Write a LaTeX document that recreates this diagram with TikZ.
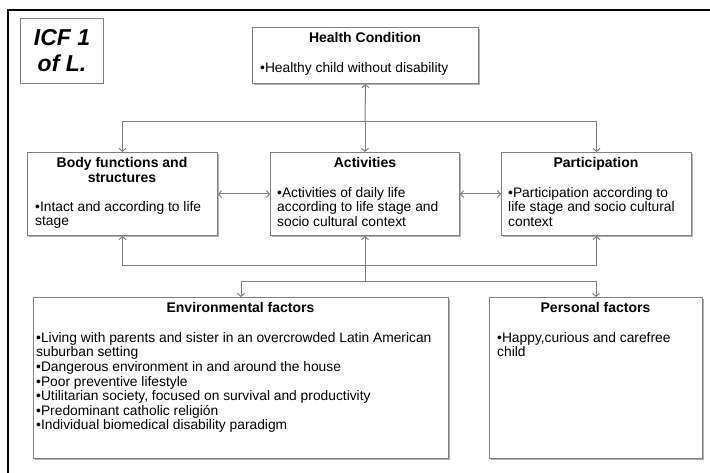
\documentclass[tikz,border=0pt]{standalone}
\usepackage{fontspec}
\setmainfont{Liberation Sans}
\usetikzlibrary{arrows.meta,shadows}
\begin{document}
\begin{tikzpicture}[x=1pt,y=-1pt,
  box/.style={draw=black!50, line width=1pt, fill=white, anchor=north west, inner sep=0pt,
    drop shadow={shadow xshift=1.2pt, shadow yshift=-1.2pt, fill=black!30, opacity=1}},
  ttl/.style={font=\fontsize{14}{15}\selectfont\bfseries, align=center, inner sep=0pt, anchor=north},
  txt/.style={font=\fontsize{13.8}{14.8}\selectfont, align=left, inner sep=0pt, anchor=north west},
  conn/.style={draw=black!50, line width=1pt},
  arr/.style={conn, -{Straight Barb[length=3pt,width=7pt]}},
  arrb/.style={conn, {Straight Barb[length=3pt,width=7pt]}-{Straight Barb[length=3pt,width=7pt]}}]
\useasboundingbox (0,0) rectangle (710,473);
\fill[white] (0,0) rectangle (710,473);
% outer frame (cropped)
\draw[black, line width=1.3pt] (8,473) -- (8,10) -- (710,10);
% title box
\node[draw=black!50, line width=1pt, minimum width=83pt, minimum height=65pt, anchor=north west, inner sep=0pt] (icf) at (20,18) {};
\node[font=\fontsize{23}{26}\selectfont\bfseries\itshape, align=center, inner sep=0pt] (icft) at (icf.center) {ICF 1\\of L.};
% boxes
\node[box, minimum width=226pt, minimum height=56pt] (hc) at (252,27) {};
\node[box, minimum width=190pt, minimum height=83pt] (body) at (27,152) {};
\node[box, minimum width=189pt, minimum height=83pt] (act) at (270,152) {};
\node[box, minimum width=190pt, minimum height=83pt] (part) at (501,152) {};
\node[box, minimum width=415pt, minimum height=161pt] (env) at (33,297) {};
\node[box, minimum width=213pt, minimum height=161pt] (pers) at (489,297) {};
% texts
\node[ttl] (hct) at (365,32) {Health Condition};
\node[txt] (hcb) at (260,62) {•Healthy child without disability};
\node[ttl] (bodyt) at (122,157) {Body functions and\\structures};
\node[txt] (bodyb) at (35,201) {•Intact and according to life\\stage};
\node[ttl] (actt) at (365,157) {Activities};
\node[txt] (actb) at (277,187) {•Activities of daily life\\according to life stage and\\socio cultural context};
\node[ttl] (partt) at (596,157) {Participation};
\node[txt] (partb) at (508,187) {•Participation according to\\life stage and socio cultural\\context};
\node[ttl] (envt) at (240.5,302) {Environmental factors};
\node[txt, font=\fontsize{13.8}{14.6}\selectfont] (envb) at (36,332) {•Living with parents and sister in an overcrowded Latin American\\suburban setting\\•Dangerous environment in and around the house\\•Poor preventive lifestyle\\•Utilitarian society, focused on survival and productivity\\•Predominant catholic religión\\•Individual biomedical disability paradigm};
\node[ttl] (perst) at (595.5,302) {Personal factors};
\node[txt] (persb) at (497,332) {•Happy,curious and carefree\\child};
% connectors
\coordinate (jt) at (365,122);
\coordinate (jb) at (365,266);
\coordinate (je) at (365,282);
\draw[arr] (jt) -- (hc.south);
\draw[arr] (jt) -| (body.north);
\draw[arr] (jt) -- (act.north);
\draw[arr] (jt) -| (part.north);
\draw[arrb] (body.east) -- (act.west);
\draw[arrb] (act.east) -- (part.west);
\draw[arr] (jb) -| (body.south);
\draw[arr] (jb) -| (part.south);
\draw[arr] (je) -- (act.south);
\draw[arr] (je) -| (env.north);
\draw[arr] (je) -| (pers.north);
\end{tikzpicture}
\end{document}
